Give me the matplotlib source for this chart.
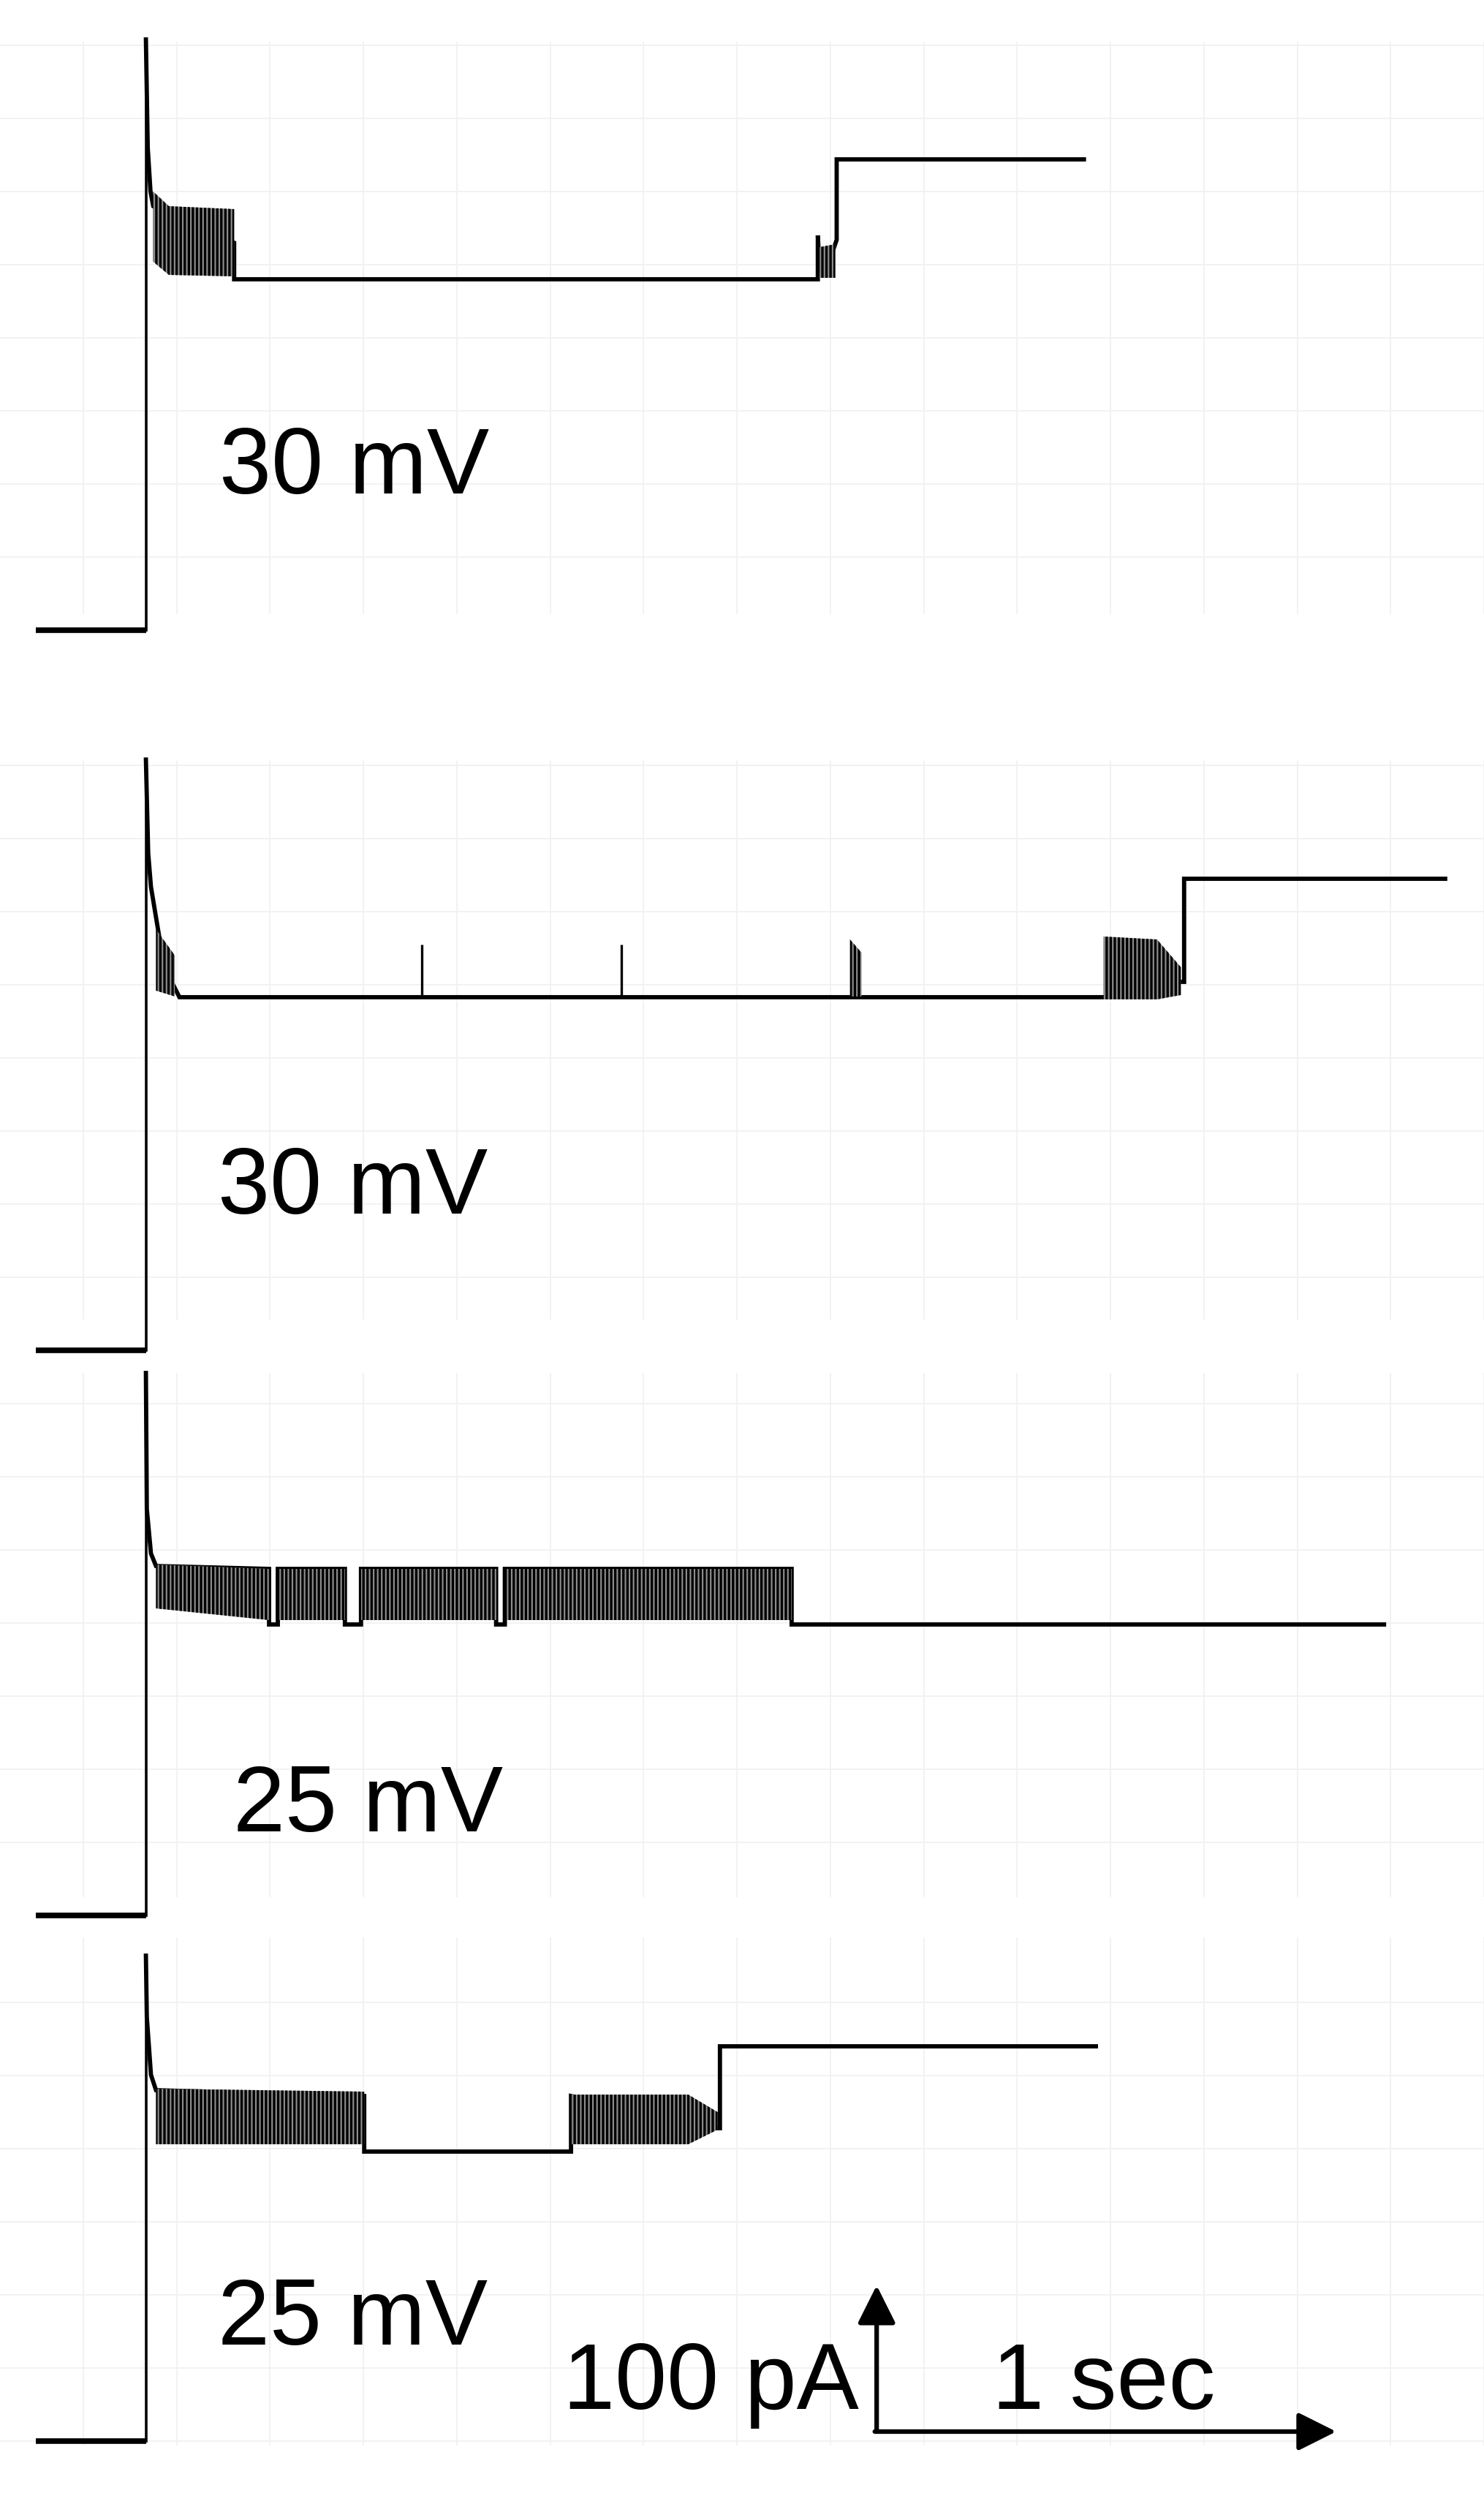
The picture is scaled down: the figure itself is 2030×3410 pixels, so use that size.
import numpy as np
import matplotlib
matplotlib.use("Agg")
import matplotlib.pyplot as plt

plt.rcParams['font.family'] = ['Liberation Sans', 'DejaVu Sans']
plt.rcParams['hatch.linewidth'] = 2.4

W, H = 2030, 3410
PX_S = 630.0   # px per second
PX_PA = 2.0    # px per pA

# ---- trace data (time in s, current in pA, 0 = holding level) ----
pre_t = [-0.24, 0.0]
pre_i = [0, 0]

# panel 1, 30 mV
p1_t = [0.0, 0.0, 0.004, 0.010, 0.016, 0.192, 0.192, 1.462, 1.462, 1.466, 1.470, 1.490, 1.503, 1.503, 2.041]
p1_i = [0, 404, 330, 300, 290, 265, 240, 240, 270, 245, 250, 255, 267, 322, 322]
p1_band_t = [[0.016, 0.05, 0.192], [1.466, 1.500]]
p1_band_lo = [[252, 243, 242], [241, 241]]
p1_band_hi = [[300, 290, 288], [262, 264]]
p1_spk_t = []
p1_spk_i = []
p1_base = 240

# panel 2, 30 mV
p2_t = [0.0, 0.0, 0.005, 0.011, 0.040, 0.073, 2.084, 2.252, 2.259, 2.259, 2.827]
p2_i = [0, 404, 340, 317, 262, 241.5, 241.5, 252, 252, 322.5, 322.5]
p2_band_t = [[0.022, 0.063], [1.532, 1.557], [2.084, 2.200, 2.252]]
p2_band_lo = [[246, 242], [242, 242], [240, 240, 243]]
p2_band_hi = [[288, 270], [281, 272], [283, 281, 262]]
p2_spk_t = [0.600, 1.035]
p2_spk_i = [277.5, 277.5]
p2_base = 241.5

# panel 3, 25 mV
p3_t = [0.0, 0.0, 0.002, 0.011, 0.022, 0.268, 0.268, 0.287, 0.287, 0.433, 0.433,
        0.468, 0.468, 0.762, 0.762, 0.781, 0.781, 1.405, 1.405, 2.694]
p3_i = [0, 371, 278, 247.5, 239, 237, 199, 199, 237, 237, 199,
        199, 237, 237, 199, 199, 237, 237, 199, 199]
p3_band_t = [[0.022, 0.268], [0.287, 0.433], [0.468, 0.762], [0.781, 1.405]]
p3_band_lo = [[210, 202], [202, 202], [202, 202], [202, 202]]
p3_band_hi = [[240, 237], [237, 237], [237, 237], [237, 237]]
p3_spk_t = []
p3_spk_i = []
p3_base = 199

# panel 4, 25 mV
p4_t = [0.0, 0.0, 0.002, 0.011, 0.022, 0.475, 0.475, 0.925, 0.925, 1.244, 1.249, 1.249, 2.067]
p4_i = [0, 332, 290, 250.5, 240, 236, 198, 198, 236, 214, 214, 270, 270]
p4_band_t = [[0.022, 0.475], [0.925, 1.18, 1.244]]
p4_band_lo = [[203, 203], [203, 203, 213]]
p4_band_hi = [[241, 239], [237, 237, 225]]
p4_spk_t = []
p4_spk_i = []
p4_base = 198

labels = ["30 mV", "30 mV", "25 mV", "25 mV"]
label_t = [0.160, 0.157, 0.190, 0.157]
label_i = [93.5, 93.5, 57.5, 66]

bar_t0, bar_i0 = 1.590, 6.5
bar_dt, bar_di = 1.0, 100
bar_labels = ["100 pA", "1 sec"]

# panel boxes in px: (top, bottom, zero level)
boxes = [(57, 840, 862), (1040, 1805, 1847), (1878, 2595, 2620), (2650, 3345, 3339)]

panels = [
    (p1_t, p1_i, p1_band_t, p1_band_lo, p1_band_hi, p1_spk_t, p1_spk_i, p1_base),
    (p2_t, p2_i, p2_band_t, p2_band_lo, p2_band_hi, p2_spk_t, p2_spk_i, p2_base),
    (p3_t, p3_i, p3_band_t, p3_band_lo, p3_band_hi, p3_spk_t, p3_spk_i, p3_base),
    (p4_t, p4_i, p4_band_t, p4_band_lo, p4_band_hi, p4_spk_t, p4_spk_i, p4_base),
]

fig = plt.figure(figsize=(W / 100, H / 100), dpi=100)
fig.patch.set_facecolor('white')

x_left = 200
axes = []
for k, (top, bot, zero) in enumerate(boxes):
    ax = fig.add_axes([0, 1 - bot / H, 1, (bot - top) / H])
    ax.set_xlim(-x_left / PX_S, (W - x_left) / PX_S)
    ax.set_ylim((zero - bot) / PX_PA, (zero - top) / PX_PA)
    for s in ax.spines.values():
        s.set_visible(False)
    ax.set_xticks(np.arange(-0.1365, 3.0, 0.2032))
    ax.set_yticks(np.arange(np.ceil((zero - bot) / PX_PA / 50) * 50, (zero - top) / PX_PA, 50))
    ax.tick_params(length=0, labelbottom=False, labelleft=False)
    ax.grid(True, color='#f1f1f1', lw=1.3)
    ax.set_axisbelow(True)

    t, i, bt, blo, bhi, st, si, base = panels[k]
    ax.plot(pre_t, pre_i, color='black', lw=5.5, solid_capstyle='butt', clip_on=False)
    # vertical capacitive step drawn thinner, level trace thicker (noise band)
    ax.plot(t[:2], i[:2], color='black', lw=2.6, clip_on=False, zorder=2)
    ax.plot(t[1:], i[1:], color='black', lw=4.2, solid_joinstyle='miter', clip_on=False, zorder=2)
    for tt, lo, hi in zip(bt, blo, bhi):
        ax.fill_between(tt, lo, hi, facecolor='#8c8c8c', edgecolor='black', hatch='|||',
                        lw=0, clip_on=False, zorder=3)
    if st:
        ax.vlines(st, base, si, color='black', lw=2.4, zorder=3)
    ax.text(label_t[k], label_i[k], labels[k], fontsize=92, ha='left', va='baseline')
    axes.append(ax)

ax = axes[3]
ax.annotate('', xy=(bar_t0, bar_i0 + bar_di), xytext=(bar_t0, bar_i0),
            arrowprops=dict(arrowstyle='-|>', lw=4.5, color='black', mutation_scale=80,
                            shrinkA=0, shrinkB=0))
ax.annotate('', xy=(bar_t0 + bar_dt, bar_i0), xytext=(bar_t0 - 0.004, bar_i0),
            arrowprops=dict(arrowstyle='-|>', lw=4.5, color='black', mutation_scale=80,
                            shrinkA=0, shrinkB=0))
ax.text(0.908, 22, bar_labels[0], fontsize=92, ha='left', va='baseline')
ax.text(1.841, 22, bar_labels[1], fontsize=92, ha='left', va='baseline')

fig.savefig('out.png', dpi=100, facecolor='white')
